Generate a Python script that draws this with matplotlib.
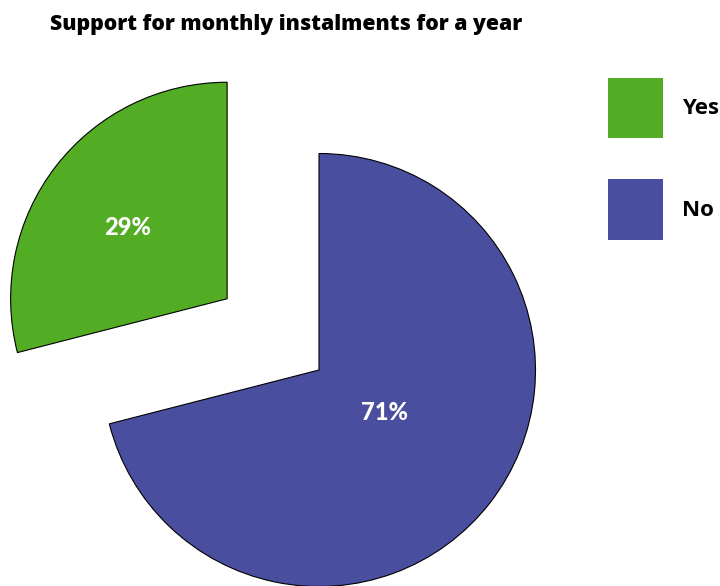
import numpy as np
import matplotlib
matplotlib.use("Agg")
import matplotlib.pyplot as plt
from matplotlib.patches import Patch

categories = ["Yes", "No"]
values = [29, 71]
colors = ["#52AC24", "#4A4E9E"]
title = "Support for monthly instalments for a year"

W, H, DPI = 720, 586, 100
fig = plt.figure(figsize=(W / DPI, H / DPI), dpi=DPI)
ax = fig.add_axes([0, 0, 1, 1])

wedges, _ = ax.pie(values, colors=colors, startangle=90, counterclock=True,
                   explode=[0.537, 0], radius=1,
                   wedgeprops=dict(edgecolor="black", linewidth=0.8))

# label placement along each wedge's mid angle
dists = [0.566, 0.36]
angs = [2.4, 5.0]
for w, v, d, a in zip(wedges, values, dists, angs):
    th = np.deg2rad((w.theta1 + w.theta2) / 2 + a)
    cx, cy = w.center
    ax.text(cx + d * np.cos(th), cy + d * np.sin(th), f"{v}%",
            ha="center", va="center", color="white", fontsize=17,
            fontweight="black", family="Lato")

s = 216.5
cxp, cyp = 319, H - 370
ax.set_aspect("auto")
ax.set_xlim(-cxp / s, (W - cxp) / s)
ax.set_ylim(-cyp / s, (H - cyp) / s)
ax.axis("off")

fig.text(50 / W, 1 - 30 / H, title, ha="left", va="baseline",
         fontsize=15.3, fontweight="heavy", family="Open Sans")

handles = [Patch(facecolor=c, edgecolor="none") for c in colors]
fs = 16
fpx = fs * DPI / 72
fig.legend(handles, categories, loc="upper left",
           bbox_to_anchor=(608 / W, 1 - 78 / H), borderaxespad=0, borderpad=0,
           frameon=False, handlelength=55 / fpx,
           handleheight=62 / fpx * 60 / 44, labelspacing=41 / fpx,
           handletextpad=19 / fpx,
           prop=dict(family="Open Sans", weight="bold", size=fs))

fig.savefig("out.png", dpi=DPI)
